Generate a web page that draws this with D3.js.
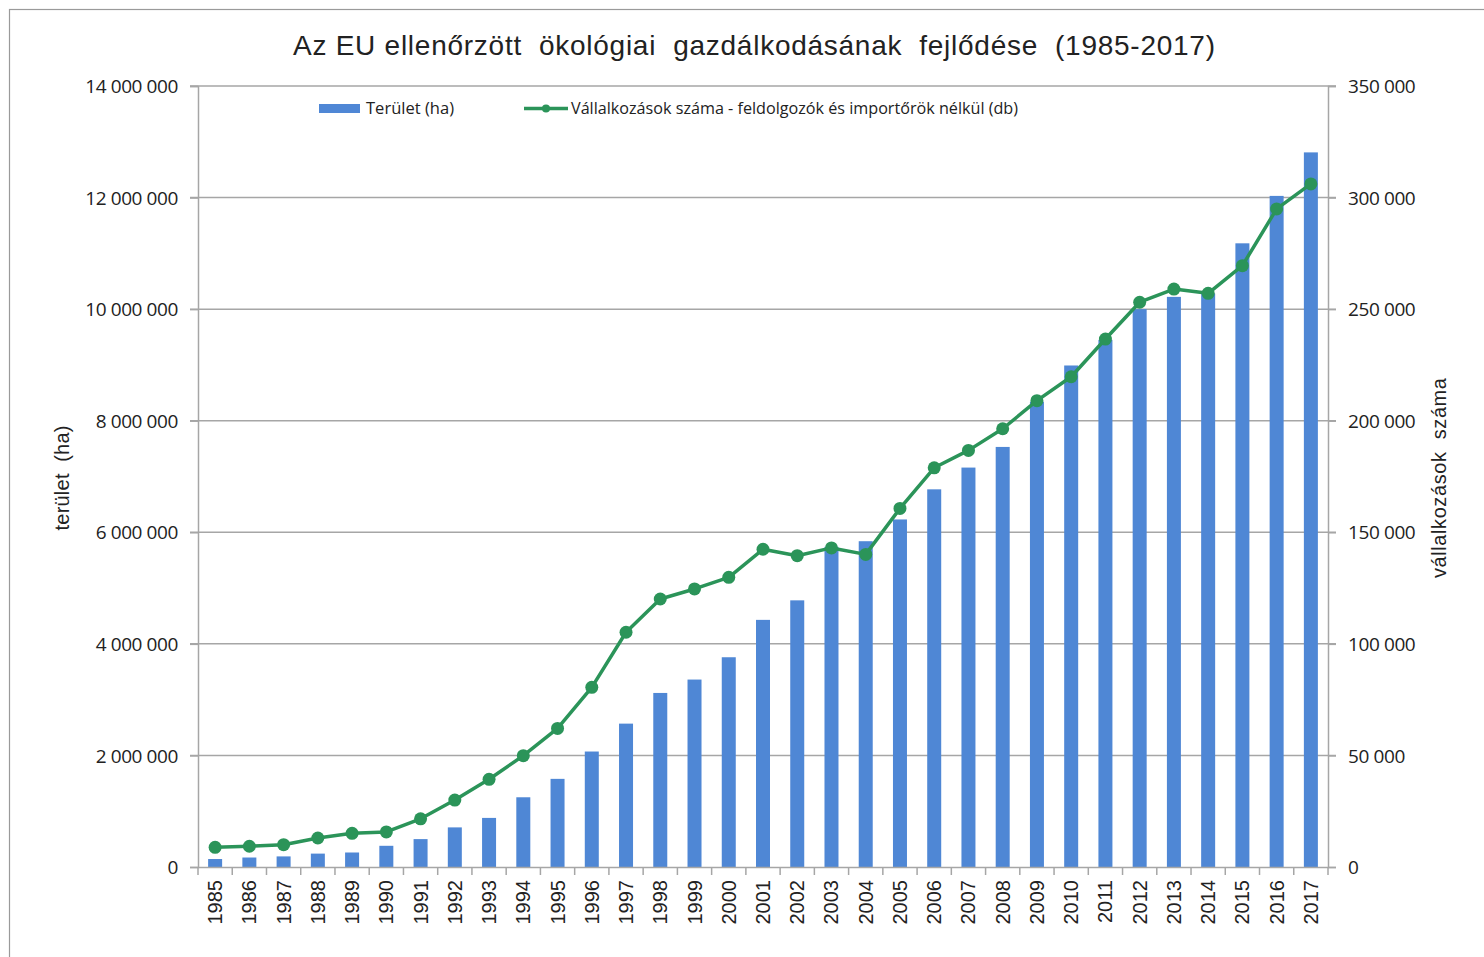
<!DOCTYPE html>
<html>
<head>
<meta charset="utf-8">
<script src="https://cdn.jsdelivr.net/npm/d3@7"></script>
<style>
  body { margin: 0; background: #fff; }
  text { fill: #222; }
</style>
</head>
<body>
<div id="chart"></div>
<script>
// data
var years = [1985, 1986, 1987, 1988, 1989, 1990, 1991, 1992, 1993, 1994, 1995, 1996,
  1997, 1998, 1999, 2000, 2001, 2002, 2003, 2004, 2005, 2006, 2007, 2008, 2009,
  2010, 2011, 2012, 2013, 2014, 2015, 2016, 2017];
var area = [143000, 170000, 190000, 240000, 260000, 380000, 500000, 710000, 880000,
  1250000, 1580000, 2070000, 2570000, 3120000, 3360000, 3760000, 4430000, 4780000,
  5740000, 5840000, 6230000, 6770000, 7160000, 7530000, 8340000, 8990000, 9450000,
  10000000, 10220000, 10280000, 11180000, 12030000, 12810000];
var firms = [8800, 9300, 10000, 13000, 15100, 15700, 21600, 30000, 39300, 49900, 62100,
  80500, 105200, 120100, 124600, 129800, 142400, 139500, 143000, 140100, 160700, 178900,
  186700, 196400, 209000, 219700, 236600, 253100, 259000, 257100, 269500, 294900, 306100];
var leftTicks = [0, 2000000, 4000000, 6000000, 8000000, 10000000, 12000000, 14000000];
var rightTicks = [0, 50000, 100000, 150000, 200000, 250000, 300000, 350000];

var title = "Az EU ellenőrzött  ökológiai  gazdálkodásának  fejlődése  (1985-2017)";
var barName = "Terület (ha)";
var lineName = "Vállalkozások száma - feldolgozók és importőrök nélkül (db)";

var W = 1484, H = 957;
var pL = 198, pR = 1328, pT = 86, pB = 867;
var barColor = "#4f87d5", lineColor = "#2b9459", gridColor = "#a6a6a6";

var svg = d3.select("#chart").append("svg")
  .attr("width", W).attr("height", H);

// outer chart frame (only top and left edges show in the picture)
svg.append("rect")
  .attr("x", 9.5).attr("y", 9.5)
  .attr("width", 1600).attr("height", 1100)
  .attr("fill", "none").attr("stroke", "#9a9a9a").attr("stroke-width", 1.2);

var xEdge = d3.scaleBand().domain(years).range([pL, pR]);
var yL = d3.scaleLinear().domain([0, 14000000]).range([pB, pT]);
var yR = d3.scaleLinear().domain([0, 350000]).range([pB, pT]);

var fmt = function(v) { return d3.format(",")(v).replace(/,/g, " "); };

// gridlines
svg.append("g").selectAll("line")
  .data(leftTicks.slice(1))
  .enter().append("line")
  .attr("x1", pL - 8).attr("x2", pR + 8)
  .attr("y1", function(d) { return yL(d); })
  .attr("y2", function(d) { return yL(d); })
  .attr("stroke", gridColor).attr("stroke-width", 1.5);

// bars
svg.append("g").selectAll("rect")
  .data(area)
  .enter().append("rect")
  .attr("x", function(d, i) { return xEdge(years[i]) + (xEdge.bandwidth() - 14) / 2; })
  .attr("width", 14)
  .attr("y", function(d) { return yL(d); })
  .attr("height", function(d) { return pB - yL(d); })
  .attr("fill", barColor);

// axes
var axisL = svg.append("g").attr("transform", "translate(" + pL + ",0)")
  .call(d3.axisLeft(yL).tickValues(leftTicks).tickSize(8).tickPadding(12).tickFormat(fmt));
var axisR = svg.append("g").attr("transform", "translate(" + pR + ",0)")
  .call(d3.axisRight(yR).tickValues(rightTicks).tickSize(8).tickPadding(12).tickFormat(fmt));
var axisB = svg.append("g").attr("transform", "translate(0," + pB + ")")
  .call(d3.axisBottom(xEdge).tickSize(0).tickPadding(0));

[axisL, axisR].forEach(function(a) {
  a.select(".domain").attr("stroke", gridColor).attr("stroke-width", 1.5);
  a.selectAll(".tick line").attr("stroke", gridColor).attr("stroke-width", 1.5);
  a.selectAll("text").attr("font-family", "'Open Sans', sans-serif")
    .attr("font-size", 19).attr("fill", "#222").attr("letter-spacing", -0.4)
    .attr("dy", "0.35em");
});

axisB.select(".domain").attr("stroke", gridColor).attr("stroke-width", 1.5);
axisB.selectAll("text")
  .attr("font-family", "'Liberation Sans', Arial, sans-serif")
  .attr("font-size", 20).attr("fill", "#222")
  .attr("text-anchor", "end")
  .attr("transform", "translate(0,13) rotate(-90)")
  .attr("dx", 0).attr("dy", "0.35em").attr("y", 0).attr("x", 0);

// category tick marks at band edges
svg.append("g").selectAll("line")
  .data(years.concat(["end"]))
  .enter().append("line")
  .attr("x1", function(d, i) { return pL + i * xEdge.step(); })
  .attr("x2", function(d, i) { return pL + i * xEdge.step(); })
  .attr("y1", pB).attr("y2", pB + 8)
  .attr("stroke", gridColor).attr("stroke-width", 1.5);

// line series
var line = d3.line()
  .x(function(d, i) { return xEdge(years[i]) + xEdge.bandwidth() / 2; })
  .y(function(d) { return yR(d); });

svg.append("path")
  .datum(firms)
  .attr("d", line)
  .attr("fill", "none")
  .attr("stroke", lineColor)
  .attr("stroke-width", 3.5)
  .attr("stroke-linejoin", "round");

svg.append("g").selectAll("circle")
  .data(firms)
  .enter().append("circle")
  .attr("cx", function(d, i) { return xEdge(years[i]) + xEdge.bandwidth() / 2; })
  .attr("cy", function(d) { return yR(d); })
  .attr("r", 6.5)
  .attr("fill", lineColor);

// title
svg.append("text")
  .attr("x", 754).attr("y", 55)
  .attr("text-anchor", "middle")
  .attr("font-family", "'Liberation Sans', Arial, sans-serif")
  .attr("font-size", 28)
  .attr("textLength", 922)
  .attr("lengthAdjust", "spacing")
  .style("white-space", "pre")
  .text(title);

// axis titles
svg.append("text")
  .attr("transform", "translate(69,478) rotate(-90)")
  .attr("text-anchor", "middle")
  .attr("font-family", "'Liberation Sans', Arial, sans-serif")
  .attr("font-size", 20)
  .attr("textLength", 105)
  .style("white-space", "pre")
  .text("terület  (ha)");

svg.append("text")
  .attr("transform", "translate(1446,478) rotate(-90)")
  .attr("text-anchor", "middle")
  .attr("font-family", "'Liberation Sans', Arial, sans-serif")
  .attr("font-size", 20)
  .attr("textLength", 200)
  .style("white-space", "pre")
  .text("vállalkozások  száma");

// legend
var lg = svg.append("g");
lg.append("rect").attr("x", 319).attr("y", 104).attr("width", 41).attr("height", 9).attr("fill", barColor);
lg.append("text").attr("x", 366).attr("y", 114)
  .attr("font-family", "'Open Sans', sans-serif").attr("font-size", 16.5)
  .attr("textLength", 88)
  .text(barName);
lg.append("line").attr("x1", 524).attr("x2", 568).attr("y1", 108.5).attr("y2", 108.5)
  .attr("stroke", lineColor).attr("stroke-width", 3.5);
lg.append("circle").attr("cx", 546).attr("cy", 108.5).attr("r", 4).attr("fill", lineColor);
lg.append("text").attr("x", 571).attr("y", 114)
  .attr("font-family", "'Open Sans', sans-serif").attr("font-size", 16)
  .attr("textLength", 447).attr("lengthAdjust", "spacingAndGlyphs")
  .text(lineName);
</script>
</body>
</html>
